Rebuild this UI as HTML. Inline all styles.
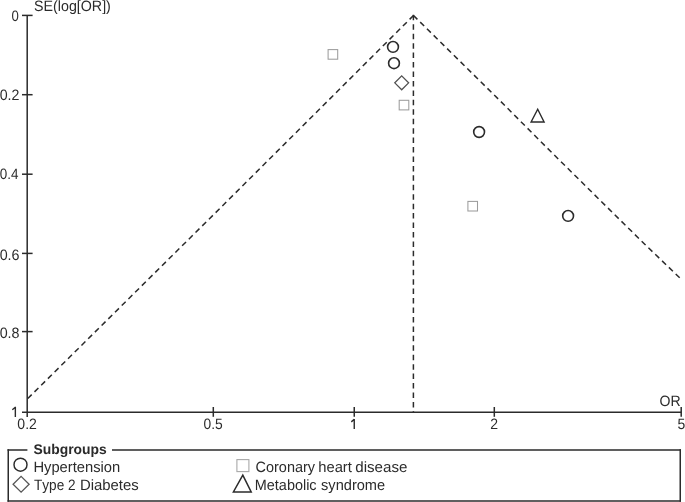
<!DOCTYPE html>
<html><head><meta charset="utf-8">
<style>
html,body{margin:0;padding:0;background:#fff;width:685px;height:502px;overflow:hidden}
svg{display:block;filter:grayscale(1)}
text{font-family:"Liberation Sans",sans-serif;fill:#2b2b2b;font-kerning:none;text-rendering:geometricPrecision}
</style></head>
<body>
<svg width="685" height="502" viewBox="0 0 685 502" xmlns="http://www.w3.org/2000/svg">
<g stroke="#2b2b2b" stroke-width="1.5" fill="none">
<line x1="27.2" y1="15.0" x2="27.2" y2="417.0"/>
<line x1="22.0" y1="412.2" x2="681.4" y2="412.2"/>
<line x1="22.0" y1="15.4" x2="32.6" y2="15.4"/>
<line x1="22.0" y1="94.7" x2="32.6" y2="94.7"/>
<line x1="22.0" y1="174.2" x2="32.6" y2="174.2"/>
<line x1="22.0" y1="253.4" x2="32.6" y2="253.4"/>
<line x1="22.0" y1="331.6" x2="32.6" y2="331.6"/>
<line x1="213.3" y1="407.0" x2="213.3" y2="416.8"/>
<line x1="354.25" y1="407.0" x2="354.25" y2="416.8"/>
<line x1="494.3" y1="407.0" x2="494.3" y2="416.8"/>
<line x1="681.2" y1="407.0" x2="681.2" y2="416.8"/>
</g>
<g stroke="#2b2b2b" stroke-width="1.5" fill="none" stroke-dasharray="5.5 3.94">
<line x1="413.4" y1="14.86" x2="413.4" y2="412"/>
<polyline points="413.5,15.5 335,93.75 275,153.5 220,208.3 105,322.15 27.5,398.8"/>
<polyline points="413.5,15.5 500,100.7 550,150.8 600,200.2 645,244.5 681,279"/>
</g>
<g fill="none" stroke-width="1.5">
<rect x="328.1" y="49.6" width="9.6" height="9.6" stroke="#9c9c9c" stroke-width="1.05"/>
<rect x="399.2" y="100.3" width="9.6" height="9.6" stroke="#9c9c9c" stroke-width="1.05"/>
<rect x="467.9" y="201.4" width="9.6" height="9.6" stroke="#9c9c9c" stroke-width="1.05"/>
<circle cx="393" cy="46.9" r="5.4" stroke="#2b2b2b" stroke-width="1.6"/>
<circle cx="394" cy="63.2" r="5.4" stroke="#2b2b2b" stroke-width="1.6"/>
<circle cx="479.1" cy="132" r="5.4" stroke="#2b2b2b" stroke-width="1.6"/>
<circle cx="568.1" cy="215.9" r="5.4" stroke="#2b2b2b" stroke-width="1.6"/>
<path d="M401.7 75.9 L408.6 82.85 L401.7 89.8 L394.8 82.85 Z" stroke="#505050" stroke-width="1.3"/>
<path d="M537.7 109.2 L544.1 122.0 L531.1 122.0 Z" stroke="#2b2b2b" stroke-width="1.4"/>
</g>
<g stroke="#2b2b2b" fill="none">
<path d="M27.4 450 H7.5 M112 450 H681" stroke-width="1.7"/>
<path d="M7.5 500.95 H681" stroke-width="1.6"/>
<path d="M8.25 449.2 V501.7 M680.25 449.2 V501.7" stroke-width="1.5"/>
</g>
<g fill="none" stroke-width="1.3">
<circle cx="20.5" cy="464.7" r="6.5" stroke="#2b2b2b" stroke-width="1.45"/>
<path d="M21.1 476.4 L29.1 484.3 L21.1 492.2 L13.1 484.3 Z" stroke="#555"/>
<rect x="236.9" y="459.6" width="12" height="12" stroke="#a8a8a8" stroke-width="1.1"/>
<path d="M242.8 475.1 L251.2 492.0 L233.4 492.0 Z" stroke="#2b2b2b" stroke-width="1.5"/>
</g>
<text x="34.05" y="10.90" font-size="15" textLength="76.83" lengthAdjust="spacingAndGlyphs">SE(log[OR])</text>
<text x="11.49" y="20.65" font-size="15" textLength="7.33" lengthAdjust="spacingAndGlyphs">0</text>
<text x="-0.36" y="99.80" font-size="15" textLength="19.77" lengthAdjust="spacingAndGlyphs">0.2</text>
<text x="-0.33" y="179.35" font-size="15" textLength="18.72" lengthAdjust="spacingAndGlyphs">0.4</text>
<text x="-0.36" y="259.55" font-size="15" textLength="19.89" lengthAdjust="spacingAndGlyphs">0.6</text>
<text x="-0.36" y="337.70" font-size="15" textLength="19.88" lengthAdjust="spacingAndGlyphs">0.8</text>
<text x="17.35" y="429.20" font-size="15" textLength="19.56" lengthAdjust="spacingAndGlyphs">0.2</text>
<text x="203.46" y="429.20" font-size="15" textLength="19.22" lengthAdjust="spacingAndGlyphs">0.5</text>
<text x="490.29" y="429.20" font-size="15" textLength="7.81" lengthAdjust="spacingAndGlyphs">2</text>
<text x="677.44" y="429.20" font-size="15" textLength="7.74" lengthAdjust="spacingAndGlyphs">5</text>
<text x="659.53" y="405.60" font-size="15" textLength="21.12" lengthAdjust="spacingAndGlyphs">OR</text>
<text x="33.50" y="453.70" font-size="14" font-weight="bold" textLength="73.27" lengthAdjust="spacingAndGlyphs">Subgroups</text>
<text x="33.39" y="471.80" font-size="15" textLength="86.87" lengthAdjust="spacingAndGlyphs">Hypertension</text>
<text x="33.99" y="490.10" font-size="15" textLength="30.31" lengthAdjust="spacingAndGlyphs">Type</text>
<text x="68.12" y="490.10" font-size="15" textLength="7.57" lengthAdjust="spacingAndGlyphs">2</text>
<text x="79.88" y="490.10" font-size="15" textLength="58.86" lengthAdjust="spacingAndGlyphs">Diabetes</text>
<text x="255.57" y="471.80" font-size="15" textLength="59.46" lengthAdjust="spacingAndGlyphs">Coronary</text>
<text x="318.28" y="471.80" font-size="15" textLength="33.63" lengthAdjust="spacingAndGlyphs">heart</text>
<text x="355.26" y="471.80" font-size="15" textLength="52.21" lengthAdjust="spacingAndGlyphs">disease</text>
<text x="254.82" y="490.30" font-size="15" textLength="61.76" lengthAdjust="spacingAndGlyphs">Metabolic</text>
<text x="321.09" y="490.30" font-size="15" textLength="64.05" lengthAdjust="spacingAndGlyphs">syndrome</text>
<path d="M15.35 406.8 V417.1 M15.35 407.2 L12.3 409.8 M354.25 418.9 V429.1 M354.25 419.3 L351.3 421.9" stroke="#2b2b2b" stroke-width="1.4" fill="none"/>
</svg>
</body></html>
